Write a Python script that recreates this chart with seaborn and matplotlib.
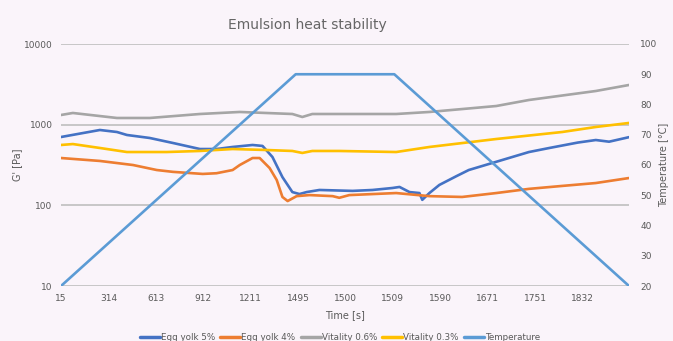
import numpy as np
import pandas as pd
import matplotlib
matplotlib.use("Agg")
import matplotlib.pyplot as plt
import seaborn as sns

sns.set_theme(style="white")
plt.rcParams['font.family'] = ['DejaVu Sans']

# Category tick labels (Excel category axis)
time_labels = ["15", "314", "613", "912", "1211", "1495", "1500", "1509",
               "1590", "1671", "1751", "1832"]

# Sample positions (in category units) and values
egg5_pos = [0, 0.82, 1.18, 1.39, 1.87, 2.36, 2.93, 3.28, 3.62, 4.04, 4.25, 4.46,
            4.67, 4.88, 5.03, 5.18, 5.45, 6.15, 6.57, 6.99, 7.14, 7.35, 7.56,
            7.62, 7.77, 7.98, 8.34, 8.6, 9.24, 9.87, 10.3, 10.9, 11.28, 11.56,
            11.98]
egg5_val = [703, 859, 811, 745, 684, 593, 499, 499, 529, 560, 545, 397,
            224, 146, 138, 146, 155, 151, 155, 164, 169, 146, 142,
            117, 142, 179, 230, 274, 355, 458, 514, 600, 645, 615,
            700]

egg4_pos = [0, 0.82, 1.52, 2.02, 2.36, 2.99, 3.28, 3.62, 3.77, 4.04, 4.19,
            4.40, 4.55, 4.67, 4.78, 4.97, 5.24, 5.73, 5.87, 6.08, 7.07, 7.77,
            8.46, 9.18, 9.87, 10.57, 11.28, 11.98]
egg4_val = [386, 355, 316, 274, 260, 245, 250, 274, 316, 386, 386,
            290, 206, 127, 113, 130, 134, 130, 124, 134, 142, 130,
            127, 142, 160, 174, 189, 218]

vit06_pos = [0, 0.25, 1.18, 1.87, 2.93, 3.77, 4.88, 5.09, 5.3, 5.87, 7.07,
             7.77, 9.18, 9.87, 11.28, 11.98]
vit06_val = [1318, 1396, 1210, 1210, 1356, 1437, 1356, 1245, 1356, 1356, 1356,
             1437, 1703, 2023, 2614, 3104]

vit03_pos = [0, 0.25, 0.82, 1.39, 2.23, 2.93, 3.62, 4.34, 4.88, 5.09, 5.3,
             5.87, 7.07, 7.77, 9.18, 10.57, 11.28, 11.98]
vit03_val = [560, 575, 514, 458, 458, 472, 499, 485, 472, 446, 472,
             472, 458, 529, 664, 811, 936, 1050]

temp_pos = [0, 4.95, 7.03, 11.98]
temp_val = [20, 90, 90, 20]

series = [
    ("Egg yolk 5%", egg5_pos, egg5_val, "#4472C4"),
    ("Egg yolk 4%", egg4_pos, egg4_val, "#ED7D31"),
    ("Vitality 0.6%", vit06_pos, vit06_val, "#A5A5A5"),
    ("Vitality 0.3%", vit03_pos, vit03_val, "#FFC000"),
]

frames = []
for name, pos, val, _ in series:
    frames.append(pd.DataFrame({"pos": pos, "G": val, "series": name}))
df = pd.concat(frames, ignore_index=True)
temp_df = pd.DataFrame({"pos": temp_pos, "T": temp_val, "series": "Temperature"})

bg = "#FAF4FA"
fig = plt.figure(figsize=(6.73, 3.41), dpi=100, facecolor=bg)
ax = fig.add_axes([61/673, 1-286/341, (629-61)/673, (286-44)/341])
ax.set_facecolor(bg)

palette = {name: c for name, _, _, c in series}
sns.lineplot(data=df, x="pos", y="G", hue="series", palette=palette, ax=ax,
             linewidth=1.9, legend=False, sort=True)
ax.set_yscale("log")
ax.set_ylim(10, 10000)
ax.set_xlim(0, 11.98)
ax.set_yticks([10, 100, 1000, 10000])
ax.set_yticklabels(["10", "100", "1000", "10000"])
ax.minorticks_off()
ax.set_xticks(range(len(time_labels)))
ax.set_xticklabels(time_labels)
ax.yaxis.grid(True, color="#BFBFBF", linewidth=1.2)
ax.set_axisbelow(True)
for s in ax.spines.values():
    s.set_visible(False)
ax.tick_params(axis="both", length=0, labelsize=6.5, colors="#595959", pad=6)
ax.set_xlabel("Time [s]", fontsize=7, color="#595959", labelpad=5)
ax.set_ylabel("G' [Pa]", fontsize=7, color="#595959", labelpad=1)

ax2 = ax.twinx()
sns.lineplot(data=temp_df, x="pos", y="T", color="#5B9BD5", ax=ax2,
             linewidth=1.9, legend=False)
ax2.set_ylim(20, 100)
ax2.set_yticks(range(20, 101, 10))
for s in ax2.spines.values():
    s.set_visible(False)
ax2.tick_params(axis="y", length=0, labelsize=6.5, colors="#595959", pad=8)
ax2.set_ylabel("Temperature [°C]", fontsize=7, color="#595959", labelpad=1)
ax2.set_xlim(0, 11.98)

fig.text(307/673, 1-25/341, "Emulsion heat stability", ha="center", va="center",
         fontsize=10, color="#666666")

handles = [plt.Line2D([0], [0], color=c, lw=2.5) for _, _, _, c in series]
handles.append(plt.Line2D([0], [0], color="#5B9BD5", lw=2.5))
labels = [name for name, _, _, _ in series] + ["Temperature"]
fig.legend(handles, labels, loc="center", bbox_to_anchor=(0.505, 3/341), ncol=5,
           frameon=False, fontsize=6.3, labelcolor="#595959", handlelength=2.3,
           handletextpad=0.1, columnspacing=0.6)

fig.savefig("out.png", dpi=100, facecolor=bg)
